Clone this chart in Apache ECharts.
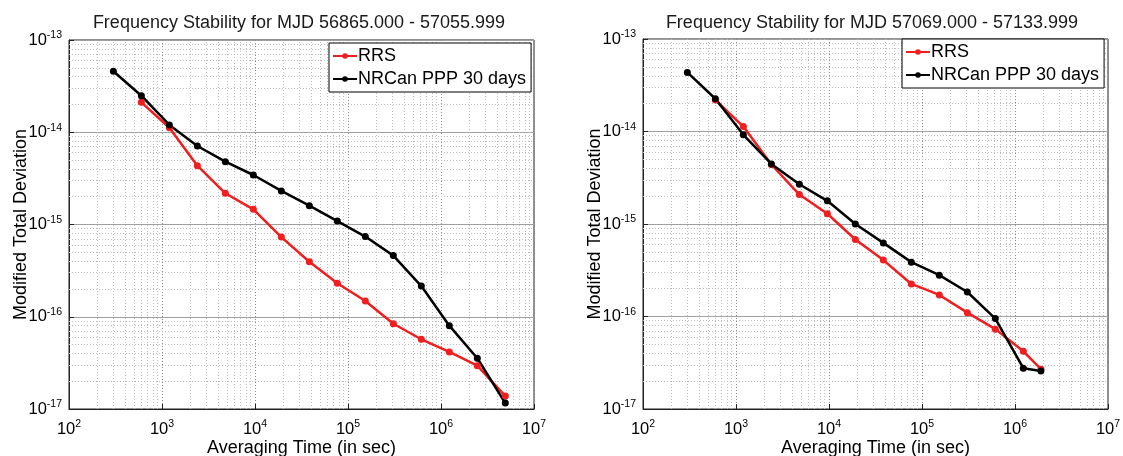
<!DOCTYPE html>
<html>
<head>
<meta charset="utf-8">
<script src="https://cdn.jsdelivr.net/npm/echarts@6/dist/echarts.min.js"></script>
<style>html,body{margin:0;padding:0;background:#fff}#c{width:1123px;height:456px}</style>
</head>
<body>
<div id="c"></div>
<script>
// ---- data ----
const titles = ['Frequency Stability for MJD 56865.000 - 57055.999', 'Frequency Stability for MJD 57069.000 - 57133.999'];
const seriesNames = ['RRS', 'NRCan PPP 30 days'];
const xAxisName = 'Averaging Time (in sec)';
const yAxisName = 'Modified Total Deviation';
const xTickExponents = [2, 3, 4, 5, 6, 7];
const yTickExponents = [-17, -16, -15, -14, -13];

const tauLeft = [300, 600, 1200, 2400, 4800, 9600, 19200, 38400, 76800, 153600, 307200, 614400, 1228800, 2457600, 4915200];
const leftRRS = [null, 2.11e-14, 1.12e-14, 4.34e-15, 2.18e-15, 1.46e-15, 7.3e-16, 3.95e-16, 2.31e-16, 1.48e-16, 8.4e-17, 5.7e-17, 4.15e-17, 2.95e-17, 1.38e-17];
const leftNRCan = [4.58e-14, 2.49e-14, 1.2e-14, 7.1e-15, 4.8e-15, 3.44e-15, 2.31e-15, 1.6e-15, 1.09e-15, 7.4e-16, 4.6e-16, 2.15e-16, 8.0e-17, 3.55e-17, 1.16e-17];

const tauRight = [300, 600, 1200, 2400, 4800, 9600, 19200, 38400, 76800, 153600, 307200, 614400, 1228800, 1900000];
const rightRRS = [null, 2.19e-14, 1.13e-14, 4.4e-15, 2.08e-15, 1.29e-15, 6.8e-16, 4.07e-16, 2.25e-16, 1.71e-16, 1.1e-16, 7.3e-17, 4.2e-17, 2.69e-17];
const rightNRCan = [4.35e-14, 2.26e-14, 9.2e-15, 4.46e-15, 2.69e-15, 1.78e-15, 1.0e-15, 6.25e-16, 3.87e-16, 2.8e-16, 1.84e-16, 9.5e-17, 2.76e-17, 2.58e-17];

// ---- helpers ----
const FONT = 'Liberation Sans, Arial, Helvetica, sans-serif';
const RED = '#f01e1e', BLACK = '#000000';
function pairs(t, v) { const out = []; t.forEach((x, i) => { if (v[i] != null) out.push([x, v[i]]); }); return out; }
function powLabel(val) {
  const e = Math.round(Math.log10(val));
  return '{b|10}{s|' + e + '}';
}
const richLbl = {
  b: { fontSize: 16.5, fontFamily: FONT, color: '#000', lineHeight: 20 },
  s: { fontSize: 10.5, fontFamily: FONT, color: '#000', verticalAlign: 'top', lineHeight: 11, padding: [0, 0, 9, 0] }
};
// minor grid values (2..9 x decade)
function minorVals(e0, e1) {
  const out = [];
  for (let e = e0; e < e1; e++) for (let m = 2; m <= 9; m++) out.push(m * Math.pow(10, e));
  return out;
}
const xMin = Math.pow(10, xTickExponents[0]), xMax = Math.pow(10, xTickExponents[xTickExponents.length - 1]);
const yMin = Math.pow(10, yTickExponents[0]), yMax = Math.pow(10, yTickExponents[yTickExponents.length - 1]);
const xMinor = minorVals(xTickExponents[0], xTickExponents[xTickExponents.length - 1]);
const yMinor = minorVals(yTickExponents[0], yTickExponents[yTickExponents.length - 1]);

const grids = [
  { left: 69, top: 40, width: 465, height: 369 },
  { left: 643, top: 39, width: 465, height: 370 }
];

const legendCommon = {
  data: seriesNames, orient: 'vertical', backgroundColor: '#fff', borderColor: '#000', borderWidth: 1, borderRadius: 0,
  padding: [4, 5, 4, 3], itemGap: 5, itemWidth: 24, itemHeight: 7,
  textStyle: { fontFamily: FONT, fontSize: 18, color: '#000', padding: [0, 0, 0, -4] }
};

const option = {
  backgroundColor: '#fff',
  animation: false,
  title: [
    { text: titles[0], left: 294, top: 9, textAlign: 'center', textStyle: { fontFamily: FONT, fontSize: 18, fontWeight: 'normal', color: '#1a1a1a' } },
    { text: titles[1], left: 867, top: 9, textAlign: 'center', textStyle: { fontFamily: FONT, fontSize: 18, fontWeight: 'normal', color: '#1a1a1a' } }
  ],
  legend: [
    Object.assign({ left: 329, top: 43 }, legendCommon),
    Object.assign({ left: 902, top: 39 }, legendCommon)
  ],
  grid: grids.map(g => Object.assign({ show: true, borderColor: '#222', borderWidth: 1, backgroundColor: '#fff', containLabel: false, outerBoundsMode: 'none' }, g)),
  xAxis: [0, 1].map(i => ({
    type: 'log', logBase: 10, gridIndex: i, min: xMin, max: xMax,
    name: xAxisName, nameLocation: 'middle', nameGap: 30, nameMoveOverlap: false,
    nameTextStyle: { fontFamily: FONT, fontSize: 18, color: '#000' },
    axisLine: { show: true, lineStyle: { color: '#222', width: 1 } },
    axisTick: { show: true, inside: true, length: 5, lineStyle: { color: '#222' } },
    axisLabel: { formatter: powLabel, rich: richLbl, margin: 10 },
    splitLine: { show: true, lineStyle: { color: '#8a8a8a', type: [1, 2], width: 1 } }
  })),
  yAxis: [0, 1].map(i => ({
    type: 'log', logBase: 10, gridIndex: i, min: yMin, max: yMax,
    name: yAxisName, nameLocation: 'middle', nameGap: 39, nameRotate: 90, nameMoveOverlap: false,
    nameTextStyle: { fontFamily: FONT, fontSize: 18, color: '#000' },
    axisLine: { show: true, lineStyle: { color: '#222', width: 1 } },
    axisTick: { show: true, inside: true, length: 5, lineStyle: { color: '#222' } },
    axisLabel: { formatter: powLabel, rich: richLbl, margin: 7 },
    splitLine: { show: true, lineStyle: { color: '#a0a0a0', type: 'solid', width: 1 } }
  })),
  series: []
};

function gridSeries(i) {
  const segs = xMinor.map(v => ({ coords: [[v, yMin], [v, yMax]] }))
    .concat(yMinor.map(v => ({ coords: [[xMin, v], [xMax, v]] })));
  return {
    type: 'lines', name: '_grid' + i, coordinateSystem: 'cartesian2d', xAxisIndex: i, yAxisIndex: i,
    z: 1, silent: true, polyline: false,
    lineStyle: { color: '#bdbdbd', type: [1, 2], width: 1, opacity: 1 },
    data: segs
  };
}
function dataSeries(i, name, tau, vals, color) {
  return {
    type: 'line', name: name, xAxisIndex: i, yAxisIndex: i, data: pairs(tau, vals), z: 5,
    symbol: 'circle', symbolSize: 7, showSymbol: true,
    lineStyle: { color: color, width: 2.5 }, itemStyle: { color: color }
  };
}
option.series.push(gridSeries(0), gridSeries(1));
option.series.push(dataSeries(0, seriesNames[0], tauLeft, leftRRS, RED));
option.series.push(dataSeries(0, seriesNames[1], tauLeft, leftNRCan, BLACK));
option.series.push(dataSeries(1, seriesNames[0], tauRight, rightRRS, RED));
option.series.push(dataSeries(1, seriesNames[1], tauRight, rightNRCan, BLACK));

const chart = echarts.init(document.getElementById('c'), null, { renderer: 'canvas' });
chart.setOption(option);
</script>
</body>
</html>
